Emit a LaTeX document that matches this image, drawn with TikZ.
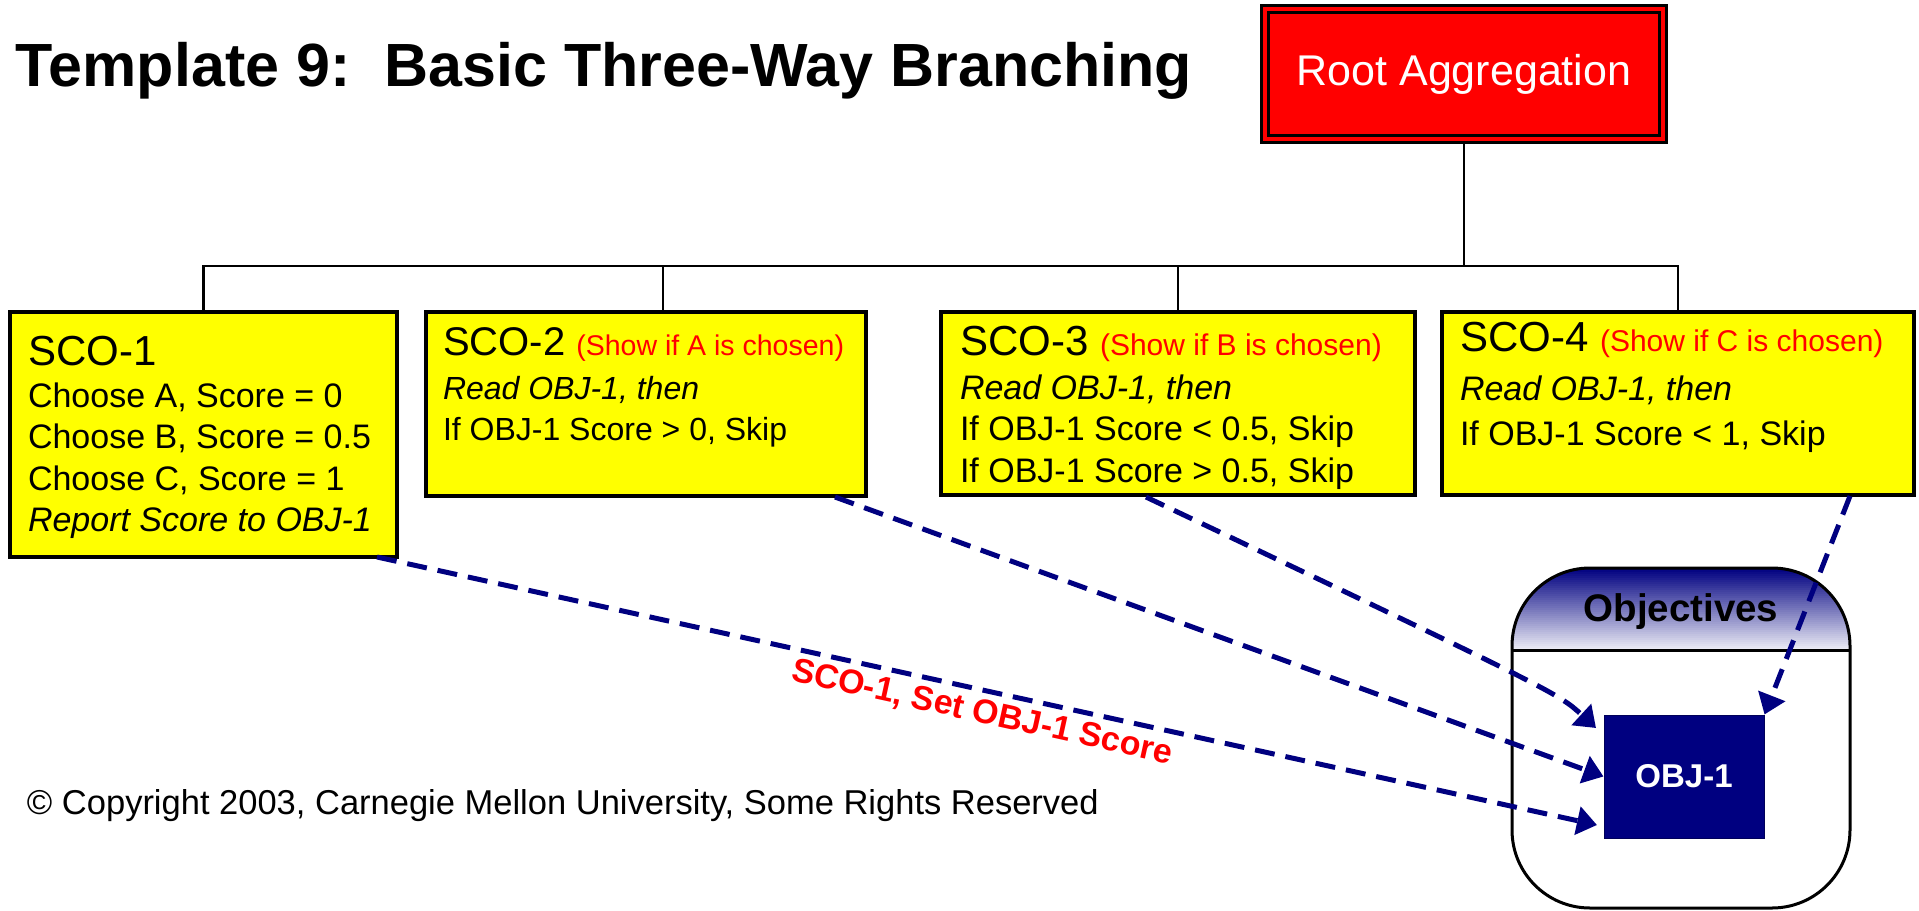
\documentclass[tikz,border=0pt]{standalone}
\usepackage{fontspec}
\setmainfont{Liberation Sans}
\usetikzlibrary{arrows.meta}
\definecolor{navyb}{RGB}{0,0,128}
\definecolor{yel}{RGB}{255,255,0}
\definecolor{redc}{RGB}{255,0,0}
\newcommand{\fsz}[1]{\fontsize{#1}{#1}\selectfont}
\begin{document}
\begin{tikzpicture}[x=1pt,y=-1pt,
  scobox/.style={draw=black, line width=3.5pt, fill=yel, inner sep=0pt},
  rootbox/.style={draw=black, line width=3pt, double=redc, double distance=4pt, fill=redc, outer sep=5pt, text=white, font=\fsz{43}},
  treeline/.style={draw=black, line width=2.5pt},
  txt/.style={anchor=base west, inner sep=0pt, outer sep=0pt},
  link/.style={draw=navyb, line width=5pt, dash pattern=on 20pt off 11pt, -{Triangle[length=20pt,width=28pt]}},
]
\useasboundingbox (0,0) rectangle (1919,910);

% title
\node[txt, font=\fsz{61}\bfseries] (title) at (16,86) {Template 9:\ \ Basic Three-Way Branching};

% root
\node[rootbox, minimum width=398pt, minimum height=130pt] (root) at (1464,74) {Root Aggregation};

% SCO boxes
\node[scobox, minimum width=387pt, minimum height=245pt] (s1) at (203.5,434.5) {};
\node[scobox, minimum width=440pt, minimum height=184pt] (s2) at (646,404) {};
\node[scobox, minimum width=474pt, minimum height=183pt] (s3) at (1178,403.5) {};
\node[scobox, minimum width=472pt, minimum height=183pt] (s4) at (1678,403.5) {};

% tree
\coordinate (bus) at (1464,266);
\coordinate (d2) at ([xshift=17pt]s2.north);
\draw[treeline] (root.south) -- (bus);
\draw[treeline] (s1.north) |- (s4.north |- bus) -- (s4.north);
\draw[treeline] (d2) -- (d2 |- bus);
\draw[treeline] (s3.north) -- (s3.north |- bus);

% SCO-1 text
\node[txt, font=\fsz{42}] (s1t) at (28,365) {SCO-1};
\node[txt, font=\fsz{34}] (s1a) at (28,407) {Choose A, Score = 0};
\node[txt, font=\fsz{34}] (s1b) at (28,448) {Choose B, Score = 0.5};
\node[txt, font=\fsz{34}] (s1c) at (28,490) {Choose C, Score = 1};
\node[txt, font=\fsz{34}\itshape] (s1d) at (28,531) {Report Score to OBJ-1};

% SCO-2 text
\node[txt, font=\fsz{40}] (s2t) at (443,355) {SCO-2 {\color{redc}\fsz{28.5}(Show if A is chosen)}};
\node[txt, font=\fsz{32}\itshape] (s2a) at (443,399) {Read OBJ-1, then};
\node[txt, font=\fsz{32}] (s2b) at (443,440) {If OBJ-1 Score > 0, Skip};

% SCO-3 text
\node[txt, font=\fsz{42}] (s3t) at (960,355) {SCO-3 {\color{redc}\fsz{30}(Show if B is chosen)}};
\node[txt, font=\fsz{34}\itshape] (s3a) at (960,399) {Read OBJ-1, then};
\node[txt, font=\fsz{34}] (s3b) at (960,440) {If OBJ-1 Score < 0.5, Skip};
\node[txt, font=\fsz{34}] (s3c) at (960,482) {If OBJ-1 Score > 0.5, Skip};

% SCO-4 text
\node[txt, font=\fsz{42}] (s4t) at (1460,351) {SCO-4 {\color{redc}\fsz{30}(Show if C is chosen)}};
\node[txt, font=\fsz{34}\itshape] (s4a) at (1460,400) {Read OBJ-1, then};
\node[txt, font=\fsz{34}] (s4b) at (1460,445) {If OBJ-1 Score < 1, Skip};

% copyright
\node[txt, font=\fsz{34.5}] (copy) at (27,814) {© Copyright 2003, Carnegie Mellon University, Some Rights Reserved};

% objectives container: header gradient
\begin{scope}
  \clip[rounded corners=78pt] (1512,568) rectangle (1850,908);
  \foreach \i in {0,...,40}{
    \pgfmathsetmacro\pc{100-2.3*\i}
    \fill[navyb!\pc!white] (1505,568+2*\i) rectangle (1857,570.6+2*\i);
  }
\end{scope}
\node[draw=black, line width=3pt, rounded corners=78pt, minimum width=338pt, minimum height=340pt, inner sep=0pt] (objc) at (1681,738) {};
\coordinate (hdrl) at (1512,650);
\coordinate (hdrr) at (1850,650);
\draw[line width=3pt] (hdrl) -- (hdrr);
\node[anchor=base, inner sep=0pt, font=\fsz{38.5}\bfseries] (objt) at (1681,621) {Objectives};

% OBJ-1
\node[fill=navyb, draw=navyb!70!black, line width=1pt, minimum width=160pt, minimum height=123pt, text=white, font=\fsz{33}\bfseries] (obj) at (1684,776.5) {OBJ-1};

% links
\coordinate (a1s) at (377,557);
\coordinate (a1e) at (1597,825);
\draw[link] (a1s) -- node[sloped, below, pos=0.5, inner sep=6pt, text=redc, font=\fsz{34}\bfseries] (lbl) {SCO-1, Set OBJ-1 Score} (a1e);
\coordinate (a2s) at (835,497);
\draw[link] (a2s) -- (obj.west);
\coordinate (a3s) at (1146,497);
\coordinate (a3e) at (1596,728);
\draw[link] (a3s) .. controls (1558,693) .. (a3e);
\coordinate (a4s) at (1850,496);
\draw[link] (a4s) -- (obj.north east);
\end{tikzpicture}
\end{document}
